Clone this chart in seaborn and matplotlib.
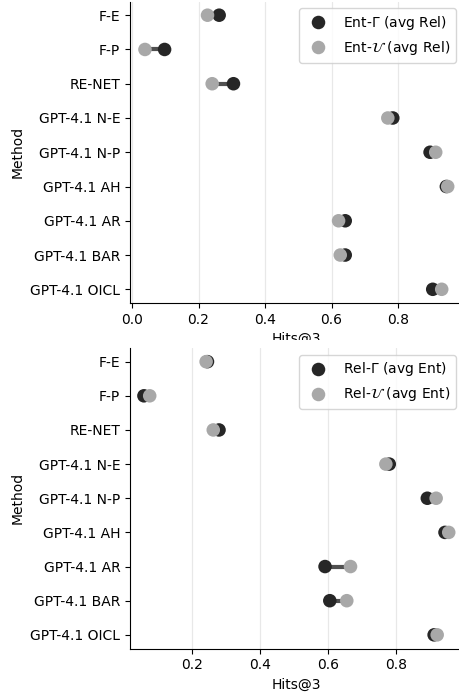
import pandas as pd
import seaborn as sns
import matplotlib.pyplot as plt
from matplotlib.transforms import Bbox, TransformedBbox

methods = ["F-E", "F-P", "RE-NET", "GPT-4.1 N-E", "GPT-4.1 N-P",
           "GPT-4.1 AH", "GPT-4.1 AR", "GPT-4.1 BAR", "GPT-4.1 OICL"]

ent_gamma = [0.262, 0.098, 0.305, 0.784, 0.896, 0.945, 0.641, 0.641, 0.904]
ent_u = [0.227, 0.039, 0.241, 0.769, 0.913, 0.949, 0.621, 0.626, 0.931]
rel_gamma = [0.245, 0.058, 0.279, 0.780, 0.892, 0.944, 0.591, 0.605, 0.912]
rel_u = [0.241, 0.075, 0.262, 0.770, 0.918, 0.955, 0.666, 0.655, 0.921]

ent_labels = [r"Ent-$\Gamma$ (avg Rel)", r"Ent-$\mathcal{U}$ (avg Rel)"]
rel_labels = [r"Rel-$\Gamma$ (avg Ent)", r"Rel-$\mathcal{U}$ (avg Ent)"]

dark = "#262626"
light = "#a8a8a8"


def dumbbell(ax, first, second, labels, xlim):
    df = pd.DataFrame({"Method": methods, labels[0]: first, labels[1]: second})
    for _, row in df.iterrows():
        ax.plot([row[labels[0]], row[labels[1]]], [row["Method"], row["Method"]],
                color="#505050", lw=3, zorder=1, solid_capstyle="butt")
    long = df.melt(id_vars="Method", var_name="Series", value_name="Hits@3")
    sns.scatterplot(data=long, x="Hits@3", y="Method", hue="Series",
                    palette={labels[0]: dark, labels[1]: light},
                    s=95, linewidth=0, zorder=2, ax=ax)
    if not ax.yaxis_inverted():
        ax.invert_yaxis()
    ax.set_xlim(*xlim)
    ax.grid(axis="x", color="#e8e8e8", lw=0.9)
    ax.grid(axis="y", visible=False)
    ax.set_axisbelow(True)
    sns.despine(ax=ax)
    sns.move_legend(ax, "upper right", title=None)
    ax.set_xlabel("Hits@3")
    ax.set_ylabel("Method")


sns.set_style("ticks", rc={"axes.edgecolor": "black", "text.color": "black",
                           "axes.labelcolor": "black", "xtick.color": "black",
                           "ytick.color": "black"})
fig = plt.figure(figsize=(4.6, 6.95), dpi=100)
ax1 = fig.add_axes([130 / 460, 392 / 695, 333 / 460, 301.5 / 695])
ax2 = fig.add_axes([130 / 460, 46.5 / 695, 333 / 460, 300.5 / 695])

dumbbell(ax1, ent_gamma, ent_u, ent_labels, (-0.006, 0.995))
dumbbell(ax2, rel_gamma, rel_u, rel_labels, (0.017, 0.997))

# upper x label is partly hidden under the lower panel
clip = TransformedBbox(Bbox([[0, (695 - 340) / 695], [1, 1]]), fig.transFigure)
ax1.xaxis.label.set_clip_box(clip)
ax1.xaxis.label.set_clip_on(True)

fig.savefig("out.png", dpi=100)
